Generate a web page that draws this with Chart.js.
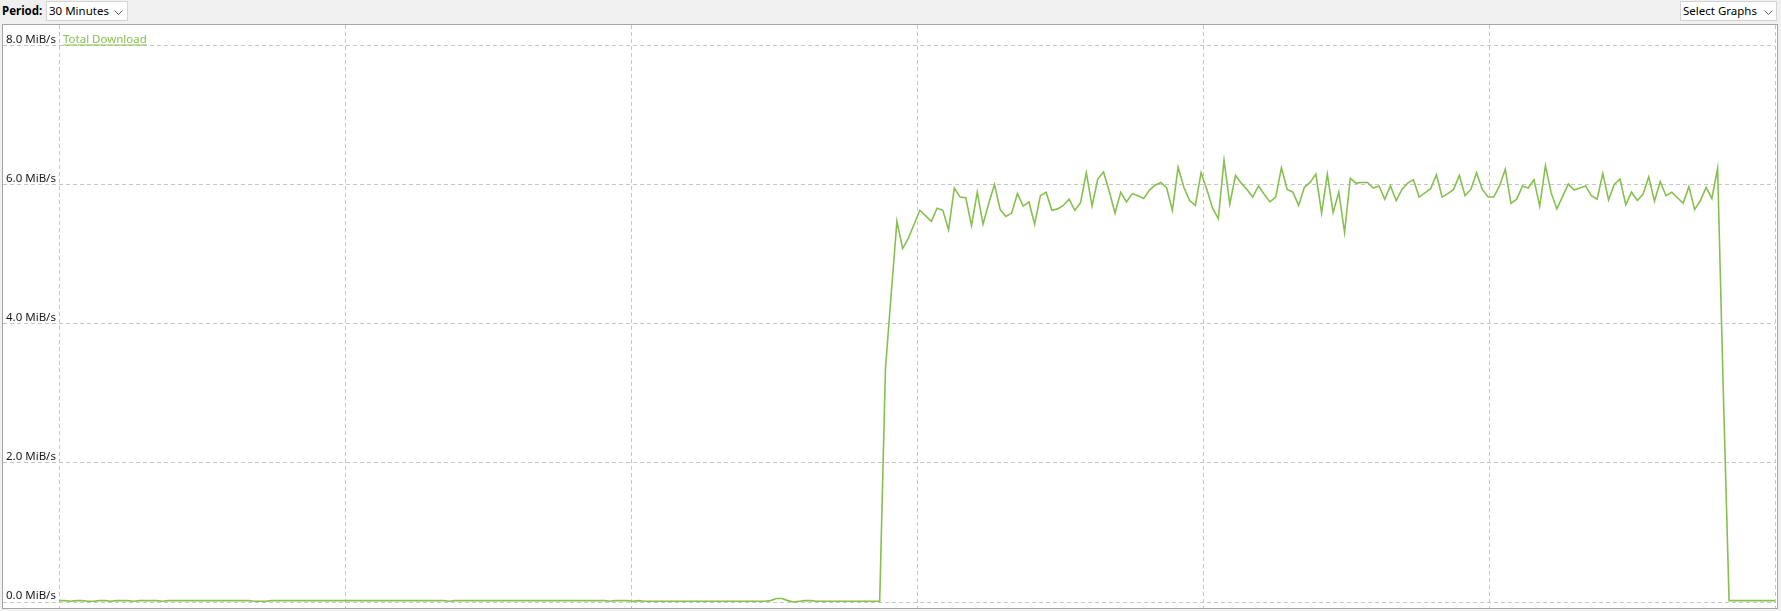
<!DOCTYPE html>
<html>
<head>
<meta charset="utf-8">
<script src="https://cdn.jsdelivr.net/npm/chart.js@4.4.0/dist/chart.umd.min.js"></script>
<style>
  body {
    margin: 0;
    width: 1781px;
    height: 611px;
    overflow: hidden;
    position: relative;
    background: #f0f0f0;
    font-family: "Noto Sans", sans-serif;
    font-size: 11.5px;
    color: #000;
  }
  .period { position: absolute; left: 2px; top: 2px; line-height: 18px; font-weight: bold; }
  .combo {
    position: absolute; top: 1px; height: 20px; box-sizing: border-box;
    border: 1px solid #d4d4d4; background: #fff; line-height: 18px; padding-left: 2px;
  }
  .combo svg { position: absolute; top: 8px; }
  #panel {
    position: absolute; left: 2px; top: 24px; width: 1776px; height: 585px;
    box-sizing: border-box; border: 1px solid #a5a5a5; background: #fff;
  }
  #myChart { position: absolute; left: 0; top: 0; }
</style>
</head>
<body>
<div class="period">Period:</div>
<div class="combo" style="left:46px;width:82px;">30 Minutes
  <svg style="left:67px" width="10" height="6"><polyline points="0.5,0.5 4.5,4.5 8.5,0.5" fill="none" stroke="#606060"/></svg>
</div>
<div class="combo" style="left:1680px;width:97px;">Select Graphs
  <svg style="left:83px" width="10" height="6"><polyline points="0.5,0.5 4.5,4.5 8.5,0.5" fill="none" stroke="#606060"/></svg>
</div>
<div id="panel"><canvas id="myChart" width="1774" height="583"></canvas></div>

<script>
// Speed samples (MiB/s), one every 6 seconds over the 30 minute window
const idleSpeed = [
  0.02, 0.02, 0.01, 0.02, 0.02, 0.01, 0.01, 0.02, 0.02, 0.01, 0.02, 0.02, 0.02, 0.01, 0.02, 0.02, 0.02, 0.02, 0.01, 0.02,
  0.02, 0.02, 0.02, 0.02, 0.02, 0.02, 0.02, 0.02, 0.02, 0.02, 0.02, 0.02, 0.02, 0.02, 0.01, 0.01, 0.01, 0.02, 0.02, 0.02,
  0.02, 0.02, 0.02, 0.02, 0.02, 0.02, 0.02, 0.02, 0.02, 0.02, 0.02, 0.02, 0.02, 0.02, 0.02, 0.02, 0.02, 0.02, 0.02, 0.02,
  0.02, 0.02, 0.02, 0.02, 0.02, 0.02, 0.02, 0.02, 0.01, 0.02, 0.02, 0.02, 0.02, 0.02, 0.02, 0.02, 0.02, 0.02, 0.02, 0.02,
  0.02, 0.02, 0.02, 0.02, 0.02, 0.02, 0.02, 0.02, 0.02, 0.02, 0.02, 0.02, 0.02, 0.02, 0.02, 0.02, 0.01, 0.02, 0.02, 0.02,
  0.01, 0.02, 0.01, 0.01, 0.01, 0.01, 0.01, 0.01, 0.01, 0.01, 0.01, 0.01, 0.01, 0.01, 0.01, 0.01, 0.01, 0.01, 0.01, 0.01,
  0.01, 0.01, 0.01, 0.01, 0.02, 0.05, 0.05, 0.02, 0.0, 0.01, 0.02, 0.02, 0.01, 0.01, 0.01, 0.01, 0.01, 0.01, 0.01, 0.01,
  0.01, 0.01, 0.01, 0.01
];
const transferSpeed = [
  3.35, 4.42, 5.47, 5.08, 5.23, 5.43, 5.63, 5.55, 5.47, 5.66, 5.63, 5.35, 5.95, 5.82, 5.81, 5.41, 5.89, 5.43, 5.73, 6.00,
  5.64, 5.54, 5.59, 5.87, 5.69, 5.75, 5.43, 5.84, 5.89, 5.63, 5.65, 5.70, 5.79, 5.63, 5.74, 6.17, 5.69, 6.08, 6.18, 5.90,
  5.59, 5.89, 5.75, 5.87, 5.84, 5.80, 5.92, 5.99, 6.03, 5.95, 5.63, 6.25, 5.96, 5.77, 5.70, 6.17, 5.93, 5.66, 5.51, 6.35,
  5.72, 6.13, 6.02, 5.93, 5.82, 5.98, 5.86, 5.75, 5.82, 6.24, 5.93, 5.89, 5.70, 5.96, 6.03, 6.15, 5.59, 6.15, 5.60, 5.89,
  5.31, 6.09, 6.02, 6.03, 6.03, 5.95, 5.98, 5.79, 5.98, 5.77, 5.93, 6.02, 6.07, 5.82, 5.88, 5.94, 6.14, 5.82, 5.87, 5.93,
  6.13, 5.84, 5.93, 6.17, 5.93, 5.82, 5.82, 5.98, 6.22, 5.73, 5.79, 5.98, 5.95, 6.07, 5.69, 6.27, 5.88, 5.65, 5.83, 6.01,
  5.92, 5.95, 5.98, 5.84, 5.79, 6.16, 5.78, 6.00, 6.08, 5.71, 5.89, 5.77, 5.86, 6.11, 5.76, 6.04, 5.84, 5.89, 5.81, 5.73,
  5.97, 5.64, 5.77, 5.96, 5.80, 6.23, 3.00
];
const stoppedSpeed = [0.02, 0.02, 0.02, 0.02, 0.02, 0.02, 0.02, 0.02, 0.02];

const seriesName = 'Total Download';
const yTickValues = [0, 2, 4, 6, 8];
const sampleSeconds = 6;

const downloadSpeed = idleSpeed.concat(transferSpeed, stoppedSpeed);
const sampleLabels = downloadSpeed.map((_, i) => i * sampleSeconds);

const lineColor = '#86c04e';
const gridColor = '#c6c6c6';
const gridDash = [4, 3];
const labelFont = { family: '"Noto Sans"', size: 11.5 };

// Underlined series name in the top left corner of the plot
const legendLabel = {
  id: 'legendLabel',
  afterDraw(chart) {
    const { ctx, chartArea } = chart;
    const ds = chart.data.datasets[0];
    ctx.save();
    ctx.font = '11.5px "Noto Sans"';
    ctx.fillStyle = ds.borderColor;
    ctx.textBaseline = 'alphabetic';
    const x = chartArea.left + 4;
    const y = 18;
    ctx.fillText(ds.label, x, y);
    const w = ctx.measureText(ds.label).width;
    ctx.fillRect(x, y + 1.5, w, 1);
    ctx.restore();
  }
};

let ctx = document.getElementById('myChart').getContext('2d');
new Chart(ctx, {
  type: 'line',
  data: {
    labels: sampleLabels,
    datasets: [
      {
        label: seriesName,
        data: downloadSpeed,
        borderColor: lineColor,
        borderWidth: 1.6,
        pointRadius: 0,
        tension: 0,
        fill: false,
      },
    ],
  },
  options: {
    responsive: false,
    animation: false,
    devicePixelRatio: 1,
    layout: { padding: { left: 3, right: 2, top: 0, bottom: 0 } },
    scales: {
      x: {
        type: 'category',
        display: false,
        offset: false,
      },
      // 5 minute vertical grid
      minutes: {
        type: 'linear',
        position: 'bottom',
        min: 0,
        max: 30,
        afterFit: (s) => { s.height = 0; s.paddingLeft = 0; s.paddingRight = 0; },
        ticks: { display: false, stepSize: 5 },
        grid: { color: gridColor, drawTicks: false },
        border: { display: false, dash: gridDash },
      },
      y: {
        min: -0.0862,
        max: 8.2932,
        afterBuildTicks: (s) => { s.ticks = yTickValues.map((v) => ({ value: v })); },
        afterFit: (s) => { s.width = 53; s.paddingTop = 0; s.paddingBottom = 0; },
        ticks: {
          callback: (v) => v.toFixed(1) + ' MiB/s',
          crossAlign: 'far',
          labelOffset: -6,
          color: '#1a1a1a',
          font: labelFont,
        },
        grid: { color: gridColor, tickLength: 56, tickBorderDash: gridDash },
        border: { display: false, dash: gridDash },
      },
    },
    plugins: {
      legend: { display: false },
      tooltip: { enabled: false },
    },
  },
  plugins: [legendLabel],
});
</script>
</body>
</html>
